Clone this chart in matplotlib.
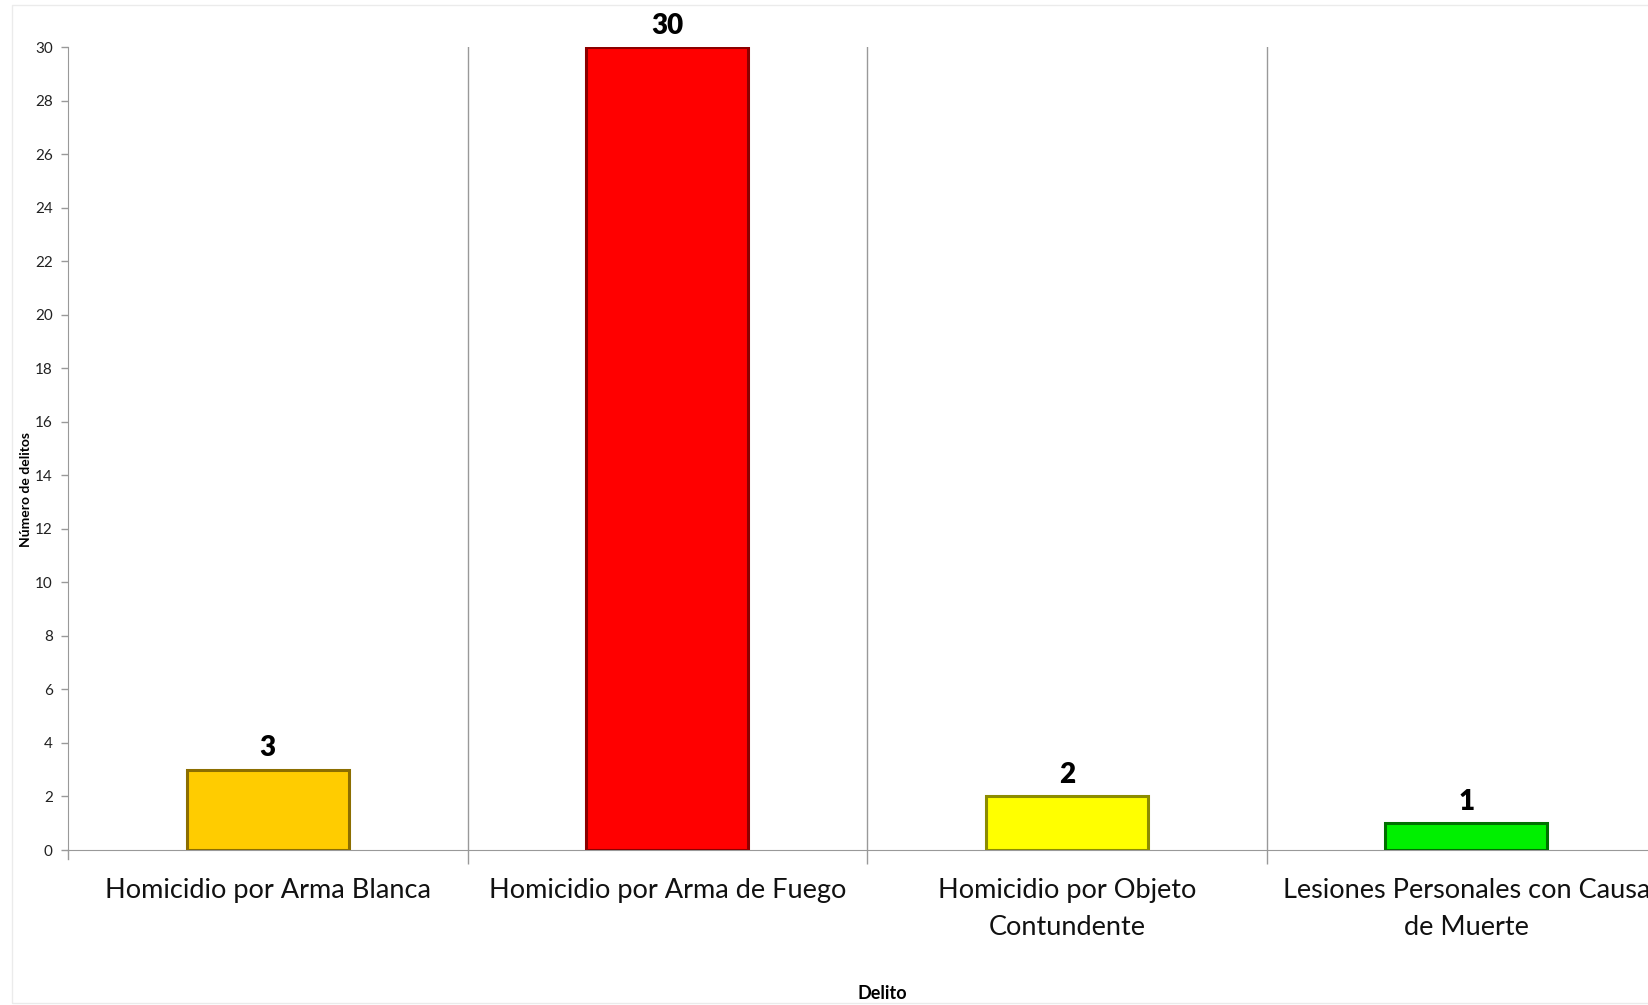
import matplotlib
matplotlib.use("Agg")
import matplotlib.pyplot as plt
from matplotlib.patches import Rectangle
import numpy as np

categories = ["Homicidio por Arma Blanca", "Homicidio por Arma de Fuego",
              "Homicidio por Objeto\nContundente", "Lesiones Personales con Causa\nde Muerte"]
values = [3, 30, 2, 1]
colors = ["#FFCC00", "#FF0000", "#FFFF00", "#00F000"]
edge_colors = ["#8C6E00", "#8C0000", "#8C8C00", "#007000"]
yticks = list(range(0, 31, 2))

plt.rcParams['font.family'] = ['Lato', 'DejaVu Sans']

fig = plt.figure(figsize=(16.48, 10.05), dpi=100)
fig.patches.append(Rectangle((12/1648, 0.002), 1.0, 0.993, transform=fig.transFigure,
                             fill=False, edgecolor="#EBEBEB", linewidth=1.0))
ax = fig.add_axes([68/1648, 1 - 850/1005, 1598/1648, 803/1005])

x = np.arange(len(categories))
bars = ax.bar(x, values, width=0.405, color=colors, edgecolor=edge_colors, linewidth=2.2, zorder=3)

for xi, v in zip(x, values):
    ax.annotate(str(v), (xi, v), xytext=(0, 6), textcoords="offset points",
                ha="center", va="bottom", fontsize=20, fontweight="heavy", color="black")

ax.set_xlim(-0.5, len(categories) - 0.5)
ax.set_ylim(0, 30)
ax.set_yticks(yticks)
ax.set_yticklabels([str(t) for t in yticks], fontsize=11, color="#222222")
ax.set_xticks(x)
ax.set_xticklabels(categories, fontsize=19.5, color="#111111", linespacing=1.6)
ax.tick_params(axis="x", which="major", length=0, pad=20)
ax.set_xticks(np.arange(0.5, len(categories) - 0.5, 1.0), minor=True)
ax.tick_params(axis="x", which="minor", length=10, color="#999999", width=1)
ax.tick_params(axis="y", length=5, color="#999999", width=1, pad=6)

ax.grid(axis="x", which="minor", color="#999999", linewidth=1, zorder=0)
ax.grid(axis="x", which="major", visible=False)

for s in ["top", "right"]:
    ax.spines[s].set_visible(False)
ax.spines["left"].set_color("#999999")
ax.spines["bottom"].set_color("#999999")

# extend left spine slightly below zero
ax.plot([-0.5, -0.5], [0, -0.35], color="#999999", linewidth=1, clip_on=False)

fig.text(882/1648, 1 - 993/1005, "Delito", ha="center", va="center", fontsize=13, fontweight="bold")
fig.text(26/1648, 1 - 489/1005, "Número de delitos", ha="center", va="center", rotation=90,
         fontsize=10, fontweight="bold")

fig.savefig("out.png", dpi=100, facecolor="white")
